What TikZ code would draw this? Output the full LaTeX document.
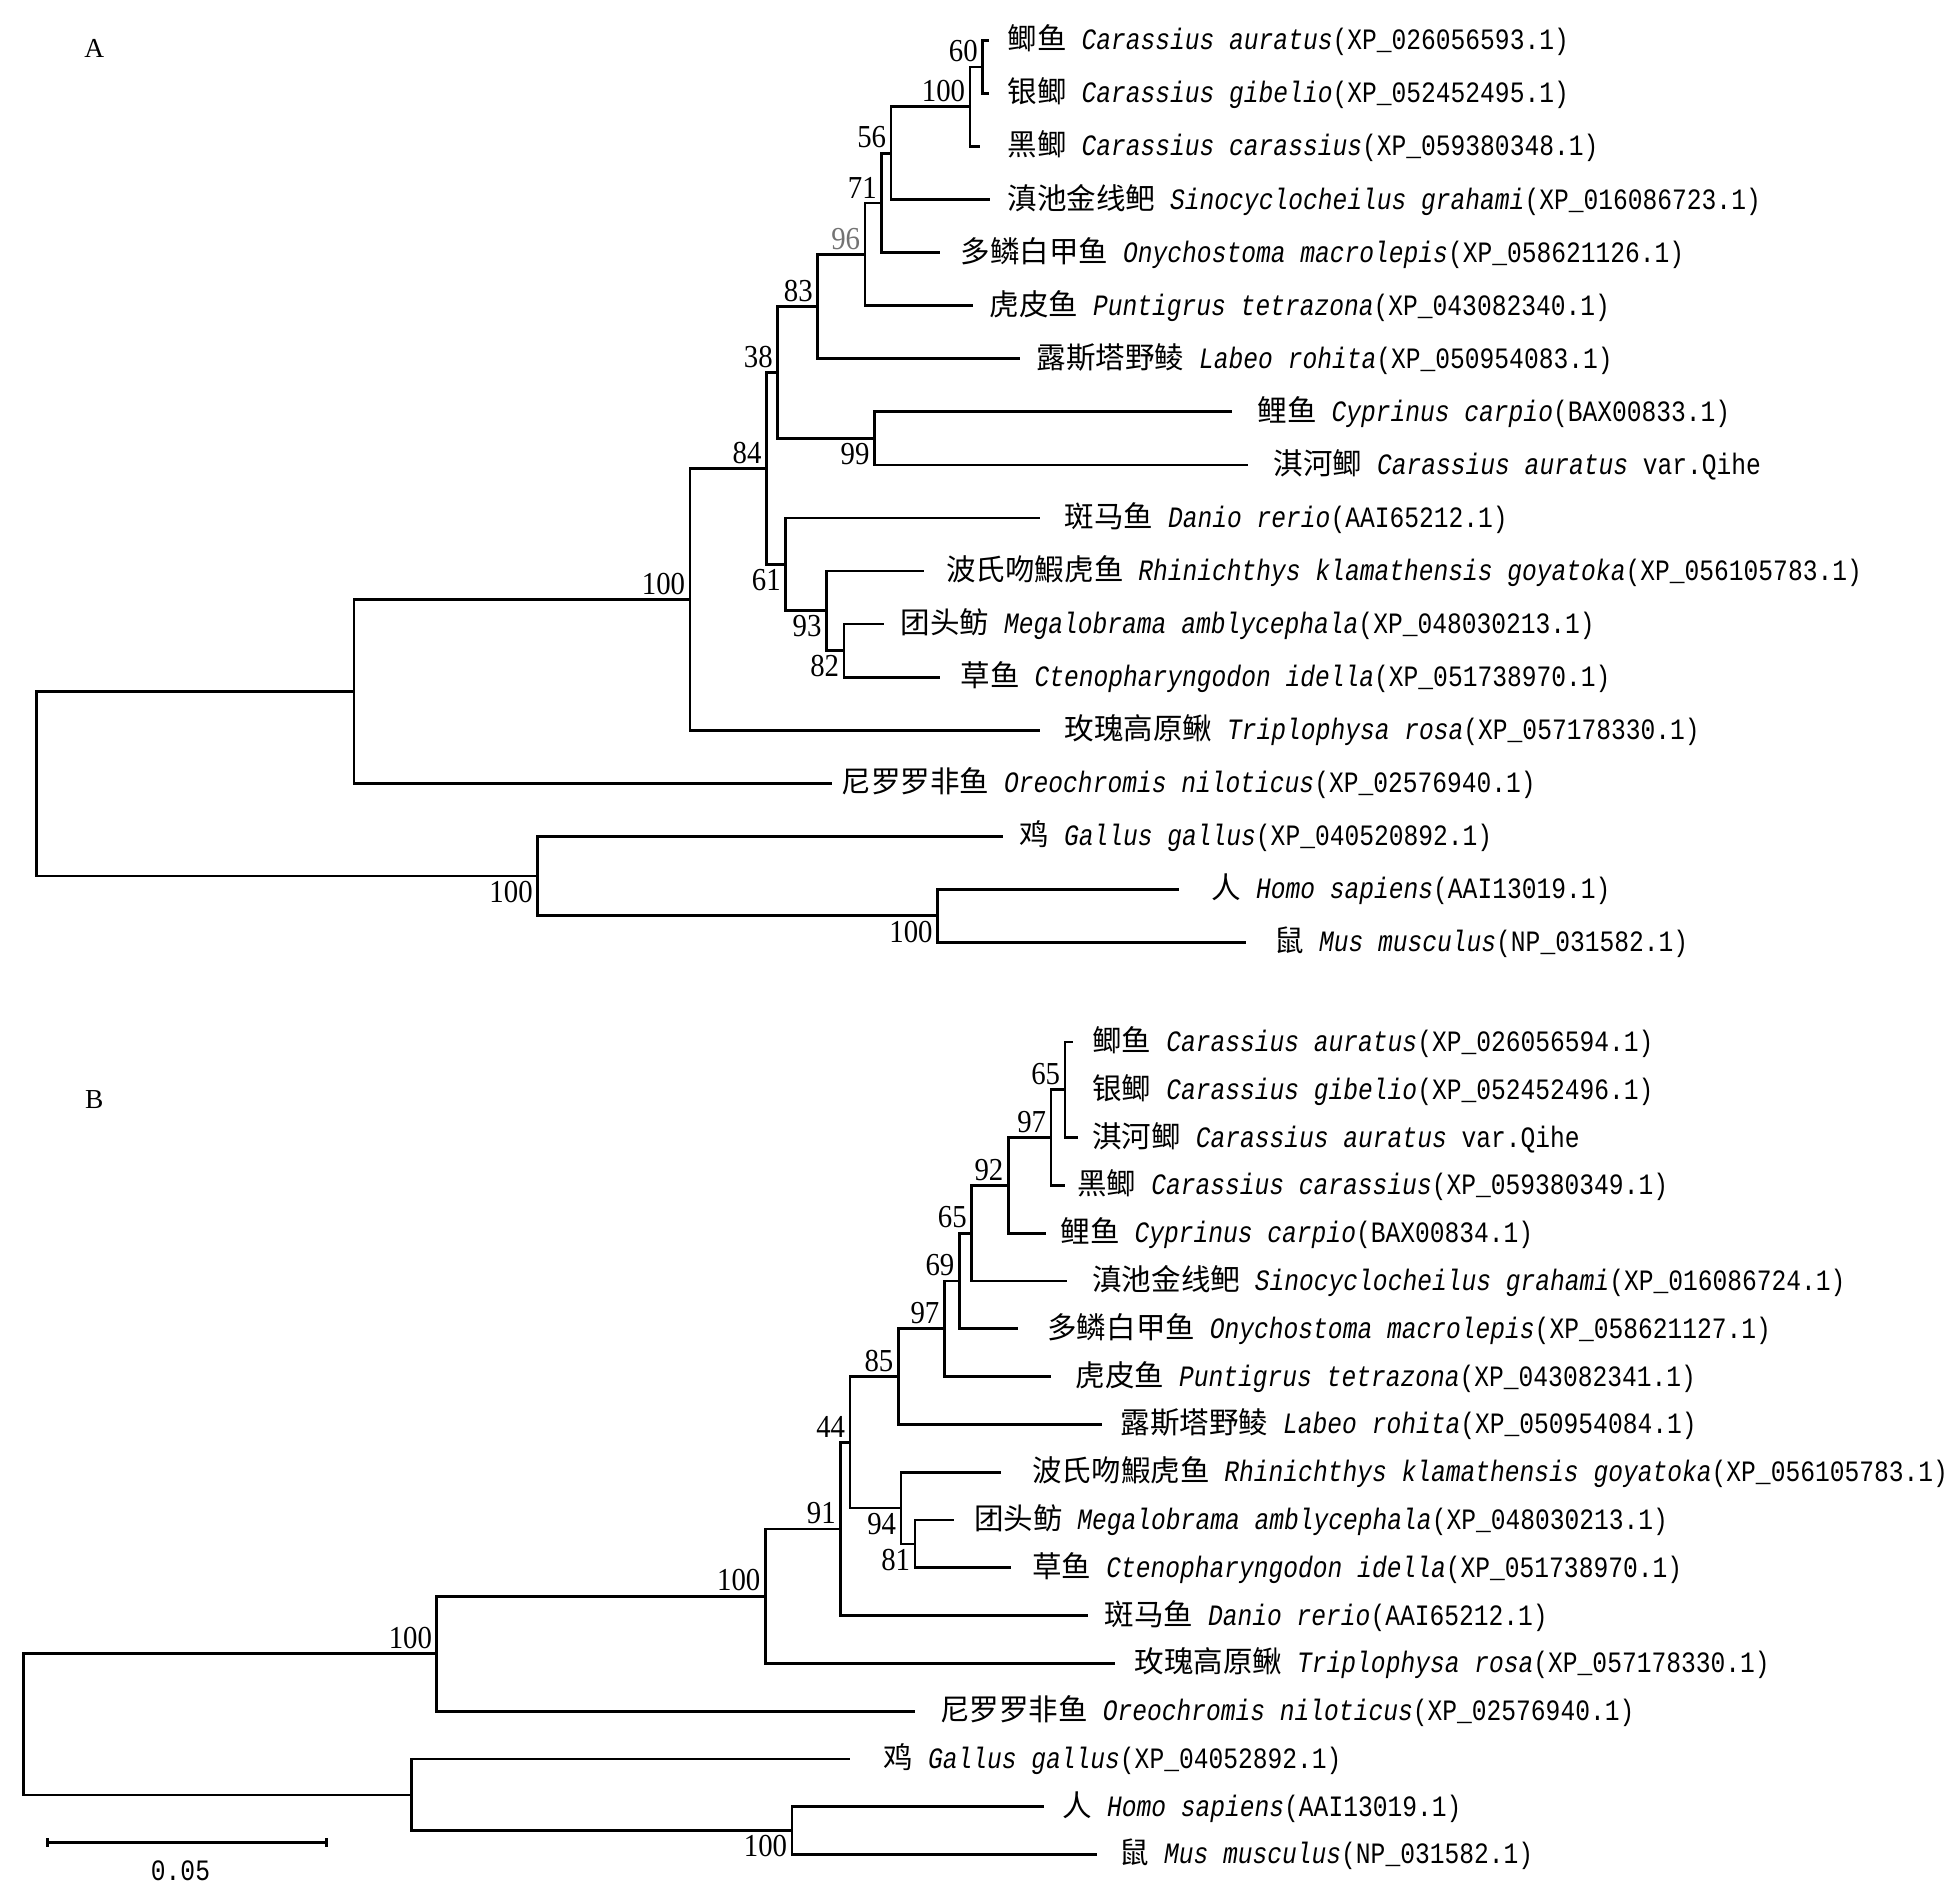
\documentclass[tikz,border=0pt]{standalone}
\usepackage{fontspec}
\setmainfont{Liberation Serif}
\newfontfamily\zhfnt{Noto Sans CJK SC}
\newfontfamily\mnfnt[FakeStretch=0.833]{Liberation Mono}
\newfontfamily\bsfnt[FakeStretch=0.9]{Liberation Serif}
\newcommand{\taxname}[3]{{\zhfnt #1}\ \textit{#2}#3}

\tikzset{
  br/.style={line width=0.8pt},
  taxon/.style={anchor=west, inner sep=0pt, font=\fontsize{8.4}{10}\selectfont\mnfnt},
  bsup/.style={anchor=south east, inner sep=1.2pt, font=\fontsize{9.1}{10}\selectfont\bsfnt},
  bsdn/.style={anchor=north east, inner sep=1.2pt, font=\fontsize{9.1}{10}\selectfont\bsfnt},
  panel/.style={font=\fontsize{7.8}{9}\selectfont}
}

\begin{document}
\begin{tikzpicture}[x=0.01cm, y=-0.01cm]
  \useasboundingbox (0,0) rectangle (1954,1902);

  % ---------- tree A ----------
  \node[panel] (pA) at (94.3,48.3) {A};

  \coordinate (aR)    at (36.4,783.7);
  \coordinate (aN1)   at (354,691.3);
  \coordinate (a100)  at (690,599.3);
  \coordinate (a84)   at (766.4,468.5);
  \coordinate (a38)   at (777.6,372.5);
  \coordinate (a83)   at (817.6,306.6);
  \coordinate (a96)   at (865,254.4);
  \coordinate (a71)   at (881.7,203);
  \coordinate (a56)   at (891,153.2);
  \coordinate (a100c) at (970,106.8);
  \coordinate (a60)   at (982.6,67);
  \coordinate (a99)   at (874.4,438.4);
  \coordinate (a61)   at (785.6,564.4);
  \coordinate (a93)   at (826.4,610.8);
  \coordinate (a82)   at (844,650.6);
  \coordinate (aB100) at (537.6,876);
  \coordinate (aM100) at (937.5,915.8);

  \coordinate (aAur) at (989,40.5);
  \node[taxon] (aAur-l) at (1007,40.5) {\taxname{鲫鱼}{Carassius auratus}{(XP\_026056593.1)}};
  \coordinate (aGib) at (989,93.55);
  \node[taxon] (aGib-l) at (1007,93.55) {\taxname{银鲫}{Carassius gibelio}{(XP\_052452495.1)}};
  \coordinate (aCar) at (980,146.6);
  \node[taxon] (aCar-l) at (1007,146.6) {\taxname{黑鲫}{Carassius carassius}{(XP\_059380348.1)}};
  \coordinate (aGra) at (990,199.65);
  \node[taxon] (aGra-l) at (1007,199.65) {\taxname{滇池金线鲃}{Sinocyclocheilus grahami}{(XP\_016086723.1)}};
  \coordinate (aMac) at (940,252.7);
  \node[taxon] (aMac-l) at (960,252.7) {\taxname{多鳞白甲鱼}{Onychostoma macrolepis}{(XP\_058621126.1)}};
  \coordinate (aTet) at (973,305.75);
  \node[taxon] (aTet-l) at (989,305.75) {\taxname{虎皮鱼}{Puntigrus tetrazona}{(XP\_043082340.1)}};
  \coordinate (aRoh) at (1020,358.8);
  \node[taxon] (aRoh-l) at (1036,358.8) {\taxname{露斯塔野鲮}{Labeo rohita}{(XP\_050954083.1)}};
  \coordinate (aCyp) at (1232,411.85);
  \node[taxon] (aCyp-l) at (1257,411.85) {\taxname{鲤鱼}{Cyprinus carpio}{(BAX00833.1)}};
  \coordinate (aQih) at (1248,464.9);
  \node[taxon] (aQih-l) at (1273,464.9) {\taxname{淇河鲫}{Carassius auratus}{\ var.Qihe}};
  \coordinate (aDan) at (1040,517.95);
  \node[taxon] (aDan-l) at (1064,517.95) {\taxname{斑马鱼}{Danio rerio}{(AAI65212.1)}};
  \coordinate (aGoy) at (924,571);
  \node[taxon] (aGoy-l) at (945.6,571) {\taxname{波氏吻鰕虎鱼}{Rhinichthys klamathensis goyatoka}{(XP\_056105783.1)}};
  \coordinate (aMeg) at (884,624.05);
  \node[taxon] (aMeg-l) at (900,624.05) {\taxname{团头鲂}{Megalobrama amblycephala}{(XP\_048030213.1)}};
  \coordinate (aIde) at (940,677.1);
  \node[taxon] (aIde-l) at (960,677.1) {\taxname{草鱼}{Ctenopharyngodon idella}{(XP\_051738970.1)}};
  \coordinate (aRos) at (1040,730.15);
  \node[taxon] (aRos-l) at (1064,730.15) {\taxname{玫瑰高原鳅}{Triplophysa rosa}{(XP\_057178330.1)}};
  \coordinate (aNil) at (832,783.2);
  \node[taxon] (aNil-l) at (841,783.2) {\taxname{尼罗罗非鱼}{Oreochromis niloticus}{(XP\_02576940.1)}};
  \coordinate (aGal) at (1003,836.25);
  \node[taxon] (aGal-l) at (1019,836.25) {\taxname{鸡}{Gallus gallus}{(XP\_040520892.1)}};
  \coordinate (aHom) at (1179,889.3);
  \node[taxon] (aHom-l) at (1211,889.3) {\taxname{人}{Homo sapiens}{(AAI13019.1)}};
  \coordinate (aMus) at (1246,942.35);
  \node[taxon] (aMus-l) at (1274,942.35) {\taxname{鼠}{Mus musculus}{(NP\_031582.1)}};

  \draw[br] (aR) |- (aN1) (aR) |- (aB100);
  \draw[br] (aN1) |- (a100) (aN1) |- (aNil);
  \draw[br] (a100) |- (a84) (a100) |- (aRos);
  \draw[br] (a84) |- (a38) (a84) |- (a61);
  \draw[br] (a38) |- (a83) (a38) |- (a99);
  \draw[br] (a83) |- (a96) (a83) |- (aRoh);
  \draw[br] (a96) |- (a71) (a96) |- (aTet);
  \draw[br] (a71) |- (a56) (a71) |- (aMac);
  \draw[br] (a56) |- (a100c) (a56) |- (aGra);
  \draw[br] (a100c) |- (a60) (a100c) |- (aCar);
  \draw[br] (a60) |- (aAur) (a60) |- (aGib);
  \draw[br] (a99) |- (aCyp) (a99) |- (aQih);
  \draw[br] (a61) |- (aDan) (a61) |- (a93);
  \draw[br] (a93) |- (aGoy) (a93) |- (a82);
  \draw[br] (a82) |- (aMeg) (a82) |- (aIde);
  \draw[br] (aB100) |- (aGal) (aB100) |- (aM100);
  \draw[br] (aM100) |- (aHom) (aM100) |- (aMus);

  \node[bsup] (a60-v)   at (a60) {60};
  \node[bsup] (a100c-v) at (a100c) {100};
  \node[bsup] (a56-v)   at (a56) {56};
  \node[bsup] (a71-v)   at (a71) {71};
  \node[bsup, text=black!55] (a96-v) at (a96) {96};
  \node[bsup] (a83-v)   at (a83) {83};
  \node[bsup] (a38-v)   at (a38) {38};
  \node[bsup] (a84-v)   at (a84) {84};
  \node[bsup] (a100-v)  at (a100) {100};
  \node[bsdn] (a99-v)   at (a99) {99};
  \node[bsdn] (a61-v)   at (a61) {61};
  \node[bsdn] (a93-v)   at (a93) {93};
  \node[bsdn] (a82-v)   at (a82) {82};
  \node[bsdn] (aB100-v) at (aB100) {100};
  \node[bsdn] (aM100-v) at (aM100) {100};

  % ---------- tree B ----------
  \node[panel] (pB) at (94.3,1100) {B};

  \coordinate (bR)    at (23.6,1724.3);
  \coordinate (b100u) at (436.9,1653.7);
  \coordinate (b100m) at (765.3,1596.2);
  \coordinate (b91)   at (840.6,1529);
  \coordinate (b44)   at (850,1442.3);
  \coordinate (b85)   at (898.3,1376.6);
  \coordinate (b97)   at (944.3,1328.8);
  \coordinate (b69)   at (959.3,1281);
  \coordinate (b65)   at (971.7,1233.2);
  \coordinate (b92)   at (1008.3,1185.4);
  \coordinate (b97t)  at (1051,1137.6);
  \coordinate (b65t)  at (1065,1089.8);
  \coordinate (b94)   at (901,1508);
  \coordinate (b81)   at (915,1543.9);
  \coordinate (bB100) at (411.4,1794.9);
  \coordinate (bM100) at (792,1830.7);

  \coordinate (bAur) at (1073.3,1042);
  \node[taxon] (bAur-l) at (1091.7,1042) {\taxname{鲫鱼}{Carassius auratus}{(XP\_026056594.1)}};
  \node[taxon] (bGib-l) at (1091.7,1089.8) {\taxname{银鲫}{Carassius gibelio}{(XP\_052452496.1)}};
  \coordinate (bQih) at (1078.3,1137.6);
  \node[taxon] (bQih-l) at (1091.7,1137.6) {\taxname{淇河鲫}{Carassius auratus}{\ var.Qihe}};
  \coordinate (bCar) at (1065,1185.4);
  \node[taxon] (bCar-l) at (1076.7,1185.4) {\taxname{黑鲫}{Carassius carassius}{(XP\_059380349.1)}};
  \coordinate (bCyp) at (1046,1233.2);
  \node[taxon] (bCyp-l) at (1060,1233.2) {\taxname{鲤鱼}{Cyprinus carpio}{(BAX00834.1)}};
  \coordinate (bGra) at (1067.3,1281);
  \node[taxon] (bGra-l) at (1091.7,1281) {\taxname{滇池金线鲃}{Sinocyclocheilus grahami}{(XP\_016086724.1)}};
  \coordinate (bMac) at (1018.3,1328.8);
  \node[taxon] (bMac-l) at (1046.7,1328.8) {\taxname{多鳞白甲鱼}{Onychostoma macrolepis}{(XP\_058621127.1)}};
  \coordinate (bTet) at (1051,1376.6);
  \node[taxon] (bTet-l) at (1075,1376.6) {\taxname{虎皮鱼}{Puntigrus tetrazona}{(XP\_043082341.1)}};
  \coordinate (bRoh) at (1101.7,1424.4);
  \node[taxon] (bRoh-l) at (1120,1424.4) {\taxname{露斯塔野鲮}{Labeo rohita}{(XP\_050954084.1)}};
  \coordinate (bGoy) at (1000.7,1472.2);
  \node[taxon] (bGoy-l) at (1031.7,1472.2) {\taxname{波氏吻鰕虎鱼}{Rhinichthys klamathensis goyatoka}{(XP\_056105783.1)}};
  \coordinate (bMeg) at (954,1520);
  \node[taxon] (bMeg-l) at (973.3,1520) {\taxname{团头鲂}{Megalobrama amblycephala}{(XP\_048030213.1)}};
  \coordinate (bIde) at (1010.7,1567.8);
  \node[taxon] (bIde-l) at (1031.7,1567.8) {\taxname{草鱼}{Ctenopharyngodon idella}{(XP\_051738970.1)}};
  \coordinate (bDan) at (1088,1615.6);
  \node[taxon] (bDan-l) at (1104,1615.6) {\taxname{斑马鱼}{Danio rerio}{(AAI65212.1)}};
  \coordinate (bRos) at (1115,1663.4);
  \node[taxon] (bRos-l) at (1134,1663.4) {\taxname{玫瑰高原鳅}{Triplophysa rosa}{(XP\_057178330.1)}};
  \coordinate (bNil) at (915.2,1711.2);
  \node[taxon] (bNil-l) at (939.6,1711.2) {\taxname{尼罗罗非鱼}{Oreochromis niloticus}{(XP\_02576940.1)}};
  \coordinate (bGal) at (850,1759);
  \node[taxon] (bGal-l) at (883,1759) {\taxname{鸡}{Gallus gallus}{(XP\_04052892.1)}};
  \coordinate (bHom) at (1044,1806.8);
  \node[taxon] (bHom-l) at (1062,1806.8) {\taxname{人}{Homo sapiens}{(AAI13019.1)}};
  \coordinate (bMus) at (1097,1854.6);
  \node[taxon] (bMus-l) at (1119,1854.6) {\taxname{鼠}{Mus musculus}{(NP\_031582.1)}};

  \draw[br] (bR) |- (b100u) (bR) |- (bB100);
  \draw[br] (b100u) |- (b100m) (b100u) |- (bNil);
  \draw[br] (b100m) |- (b91) (b100m) |- (bRos);
  \draw[br] (b91) |- (b44) (b91) |- (bDan);
  \draw[br] (b44) |- (b85) (b44) |- (b94);
  \draw[br] (b85) |- (b97) (b85) |- (bRoh);
  \draw[br] (b97) |- (b69) (b97) |- (bTet);
  \draw[br] (b69) |- (b65) (b69) |- (bMac);
  \draw[br] (b65) |- (b92) (b65) |- (bGra);
  \draw[br] (b92) |- (b97t) (b92) |- (bCyp);
  \draw[br] (b97t) |- (b65t) (b97t) |- (bCar);
  \draw[br] (b65t) |- (bAur) (b65t) |- (bQih);
  \draw[br] (b94) |- (bGoy) (b94) |- (b81);
  \draw[br] (b81) |- (bMeg) (b81) |- (bIde);
  \draw[br] (bB100) |- (bGal) (bB100) |- (bM100);
  \draw[br] (bM100) |- (bHom) (bM100) |- (bMus);

  \node[bsup] (b65t-v)  at (b65t) {65};
  \node[bsup] (b97t-v)  at (b97t) {97};
  \node[bsup] (b92-v)   at (b92) {92};
  \node[bsup] (b65-v)   at (b65) {65};
  \node[bsup] (b69-v)   at (b69) {69};
  \node[bsup] (b97-v)   at (b97) {97};
  \node[bsup] (b85-v)   at (b85) {85};
  \node[bsup] (b44-v)   at (b44) {44};
  \node[bsup] (b91-v)   at (b91) {91};
  \node[bsup] (b100m-v) at (b100m) {100};
  \node[bsup] (b100u-v) at (b100u) {100};
  \node[bsdn] (b94-v)   at (b94) {94};
  \node[bsdn] (b81-v)   at (b81) {81};
  \node[bsdn] (bM100-v) at (bM100) {100};

  % scale bar
  \coordinate (sb0) at (47.8,1842.7);
  \coordinate (sb1) at (326.5,1842.7);
  \draw[br] (sb0) -- (sb1);
  \draw[br] (sb0) ++(0,-4.5) -- ++(0,9);
  \draw[br] (sb1) ++(0,-4.5) -- ++(0,9);
  \node[font=\fontsize{8.4}{10}\selectfont\mnfnt] (sblab) at (180.5,1870.7) {0.05};
\end{tikzpicture}
\end{document}
